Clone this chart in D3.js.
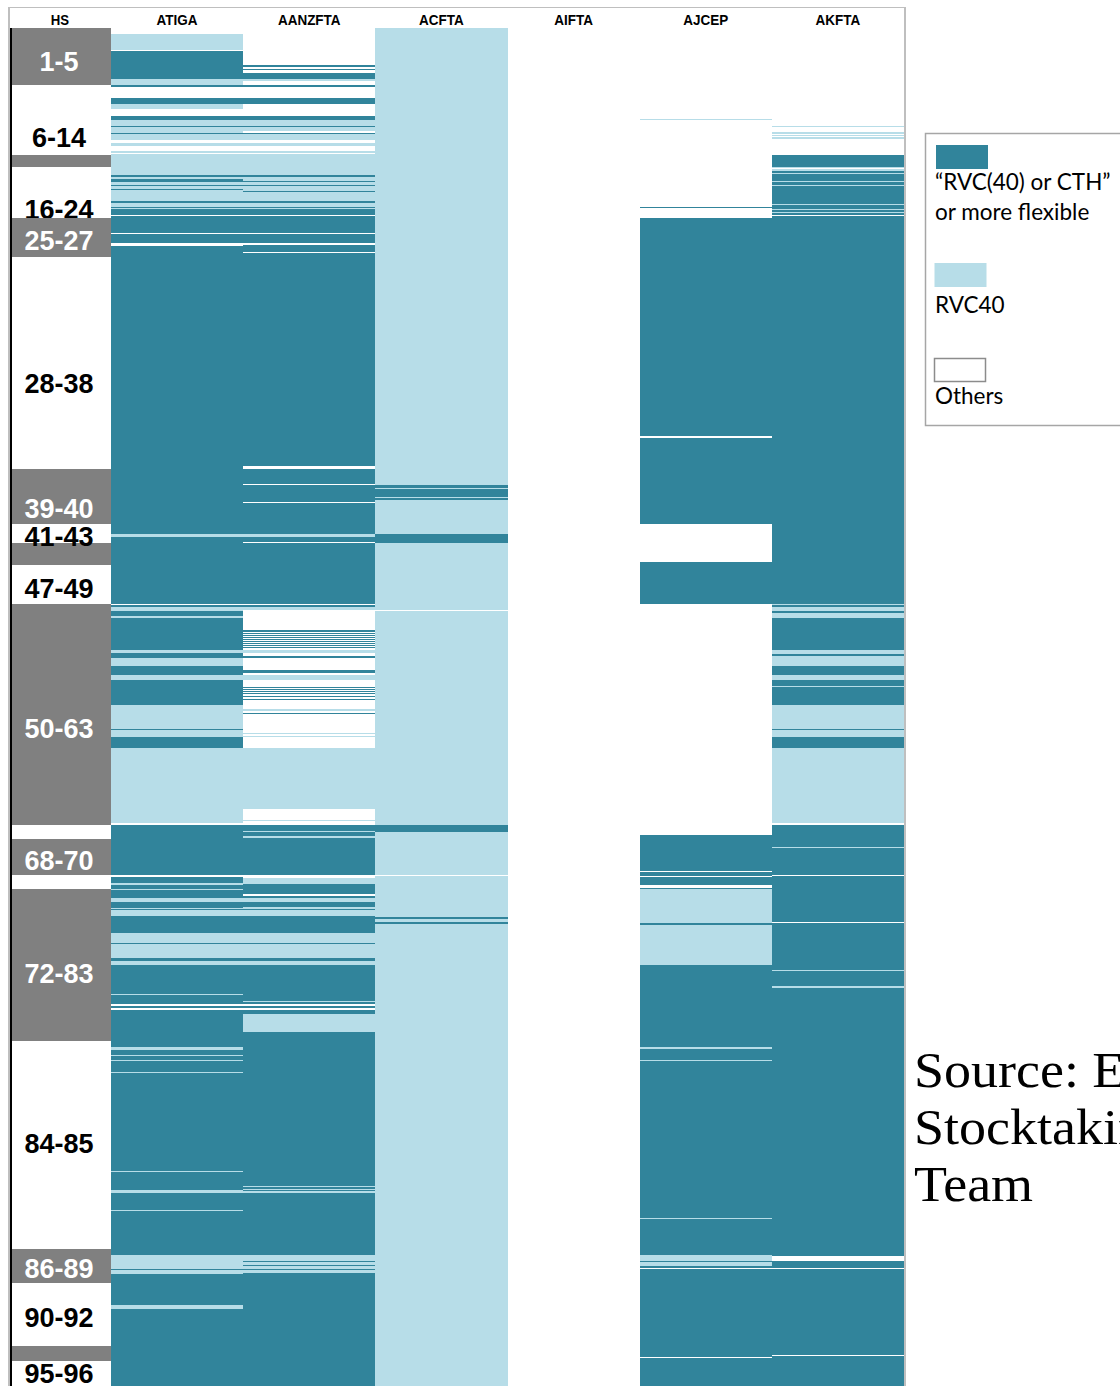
<!DOCTYPE html>
<html><head><meta charset="utf-8">
<script src="https://cdn.jsdelivr.net/npm/d3@7"></script>
<style>body{margin:0;background:#fff;overflow:hidden}svg{display:block}</style>
</head><body><svg id="c" width="1120" height="1386"></svg>
<script>
// ---------- DATA ----------
const agreements = ["ATIGA","AANZFTA","ACFTA","AIFTA","AJCEP","AKFTA"];
const categoryCodes = ["F","R","O"];
const legendLabels = [["“RVC(40) or CTH”","or more flexible"],["RVC40"],["Others"]];
const lineTotal = 1358; // tariff-line ordinal extent (HS 01 → HS 97)
// HS chapter groups: [start, end, label] in tariff-line ordinal units
const hsGroups = [
 [0,57,"1-5"],[57,127,"6-14"],[127,139,""],[139,190,"16-24"],[190,229,"25-27"],
 [229,441,"28-38"],[441,496,"39-40"],[496,515,"41-43"],[515,537,""],[537,576,"47-49"],
 [576,797,"50-63"],[797,811,""],[811,847,"68-70"],[847,861,""],[861,1013,"72-83"],
 [1013,1221,"84-85"],[1221,1255,"86-89"],[1255,1318,"90-92"],[1318,1333,""],[1333,1358,"95-96"]
];
// runs of tariff lines per agreement: [start, end, category]  (unlisted = Others)
const atiga = [
 [6,22,"R"],[23,51,"F"],[51,57,"R"],[57,59,"F"],[70,76,"F"],[76,81,"R"],[88,92,"F"],[92,98,"R"],[98,99,"F"],[99,105,"R"],
 [105,106,"F"],[106,112,"R"],[115,118,"R"],[123,125,"R"],[126,147,"R"],[147,149,"F"],[149,151,"R"],[151,154,"F"],[154,157,"R"],
 [157,158,"F"],[158,161,"R"],[161,162,"F"],[162,173,"R"],[173,175,"F"],[175,179,"R"],[179,180,"F"],[180,181,"R"],[181,187,"F"],
 [188,205,"F"],[206,215,"F"],[218,506,"F"],[506,509,"R"],[509,576,"F"],[577,579,"F"],[579,583,"R"],[583,588,"F"],[588,590,"R"],
 [590,622,"F"],[622,625,"R"],[625,630,"F"],[630,638,"R"],[638,647,"F"],[647,652,"R"],[652,677,"F"],[677,701,"R"],[701,702,"F"],
 [702,709,"R"],[709,720,"F"],[720,795,"R"],[797,847,"F"],[849,855,"F"],[855,857,"R"],[857,861,"F"],[861,862,"R"],[862,870,"F"],
 [870,874,"R"],[874,880,"F"],[880,881,"R"],[881,882,"F"],[882,888,"R"],[888,905,"F"],[905,915,"R"],[915,916,"F"],[916,930,"R"],
 [930,933,"F"],[933,937,"R"],[937,966,"F"],[966,967,"R"],[967,976,"F"],[978,980,"F"],[982,1019,"F"],[1019,1022,"R"],[1022,1027,"F"],
 [1027,1028,"R"],[1028,1032,"F"],[1032,1033,"R"],[1033,1044,"F"],[1044,1045,"R"],[1045,1143,"F"],[1143,1144,"R"],[1144,1162,"F"],
 [1162,1165,"R"],[1165,1182,"F"],[1182,1183,"R"],[1183,1227,"F"],[1227,1241,"R"],[1241,1242,"F"],[1242,1246,"R"],[1246,1277,"F"],
 [1277,1281,"R"],[1281,1358,"F"]
];
const aanzfta = [
 [37,39,"F"],[41,42,"F"],[45,51,"F"],[51,53,"R"],[57,59,"F"],[70,76,"F"],[88,92,"F"],[92,98,"R"],[98,99,"F"],[99,103,"R"],
 [105,106,"F"],[106,112,"R"],[115,118,"R"],[123,125,"R"],[126,147,"R"],[147,149,"F"],[149,153,"R"],[153,154,"F"],[154,157,"R"],
 [157,158,"F"],[158,163,"R"],[163,164,"F"],[164,173,"R"],[173,175,"F"],[175,179,"R"],[179,180,"F"],[180,181,"R"],[181,187,"F"],
 [188,205,"F"],[206,215,"F"],[217,224,"F"],[225,438,"F"],[441,456,"F"],[457,474,"F"],[475,506,"F"],[506,509,"R"],[509,514,"F"],
 [515,576,"F"],[577,579,"F"],[579,582,"R"],[602,604,"F"],[605,606,"F"],[607,608,"F"],[609,610,"F"],[611,612,"F"],[613,614,"F"],
 [615,616,"F"],[617,618,"F"],[619,620,"F"],[622,625,"R"],[628,630,"F"],[642,645,"F"],[647,652,"R"],[659,660,"F"],[661,662,"F"],
 [663,664,"F"],[665,666,"F"],[668,669,"F"],[671,672,"F"],[681,683,"R"],[685,686,"F"],[705,706,"R"],[708,709,"R"],[720,781,"R"],
 [792,793,"R"],[797,803,"F"],[803,804,"R"],[804,808,"F"],[808,810,"R"],[810,847,"F"],[850,856,"R"],[856,866,"F"],[868,870,"F"],
 [870,874,"R"],[874,879,"F"],[879,881,"R"],[881,882,"F"],[882,888,"R"],[888,905,"F"],[905,915,"R"],[915,916,"F"],[916,930,"R"],
 [930,933,"F"],[933,937,"R"],[937,973,"F"],[973,974,"R"],[974,976,"F"],[978,980,"F"],[982,986,"F"],[986,1004,"R"],[1004,1158,"F"],
 [1158,1159,"R"],[1159,1161,"F"],[1161,1162,"R"],[1162,1163,"F"],[1163,1165,"R"],[1165,1227,"F"],[1227,1233,"R"],[1233,1234,"F"],
 [1234,1237,"R"],[1237,1238,"F"],[1238,1241,"R"],[1241,1242,"F"],[1242,1245,"R"],[1245,1358,"F"]
];
const acfta = [
 [0,457,"R"],[457,460,"F"],[460,461,"R"],[461,469,"F"],[469,470,"R"],[470,472,"F"],[472,506,"R"],[506,515,"F"],[515,582,"R"],
 [583,797,"R"],[797,804,"F"],[804,847,"R"],[848,889,"R"],[889,891,"F"],[891,894,"R"],[894,896,"F"],[896,1358,"R"]
];
const aifta = [];
const ajcep = [
 [91,92,"R"],[179,180,"F"],[190,408,"F"],[410,496,"F"],[534,576,"F"],[807,843,"F"],[844,848,"F"],[849,857,"F"],[860,861,"F"],
 [861,895,"R"],[895,897,"F"],[897,937,"R"],[937,1019,"F"],[1019,1021,"R"],[1021,1032,"F"],[1032,1033,"R"],[1033,1190,"F"],
 [1190,1191,"R"],[1191,1227,"F"],[1227,1233,"R"],[1233,1234,"F"],[1234,1238,"R"],[1238,1240,"F"],[1241,1329,"F"],[1330,1358,"F"]
];
const akfta = [
 [98,99,"R"],[104,106,"R"],[107,108,"R"],[109,111,"R"],[127,139,"F"],[139,140,"R"],[141,143,"R"],[143,145,"F"],[145,146,"R"],
 [146,153,"F"],[153,154,"R"],[154,157,"F"],[157,158,"R"],[158,176,"F"],[176,177,"R"],[177,181,"F"],[181,182,"R"],[182,184,"F"],
 [184,185,"R"],[185,187,"F"],[188,576,"F"],[576,577,"R"],[577,579,"F"],[579,583,"R"],[583,585,"F"],[585,590,"R"],[590,622,"F"],
 [622,626,"R"],[626,628,"F"],[628,638,"R"],[638,647,"F"],[647,652,"R"],[652,658,"F"],[658,659,"R"],[659,677,"F"],[677,701,"R"],
 [701,702,"F"],[702,709,"R"],[709,720,"F"],[720,795,"R"],[797,819,"F"],[819,820,"R"],[820,847,"F"],[848,894,"F"],[895,942,"F"],
 [942,943,"R"],[943,958,"F"],[958,960,"R"],[960,1228,"F"],[1233,1240,"F"],[1241,1327,"F"],[1328,1358,"F"]
];
const sourceLines = ["Source: ERIA","Stocktaking","Team"];

// ---------- LAYOUT / STYLE ----------
const runsByAgreement = {ATIGA:atiga, AANZFTA:aanzfta, ACFTA:acfta, AIFTA:aifta, AJCEP:ajcep, AKFTA:akfta};
// label anchor positions (ordinal units) — layout only
const hsLabelAt = {"1-5":43,"6-14":119,"16-24":191,"25-27":222,"28-38":365,"39-40":490,"41-43":518,"47-49":570,
  "50-63":710,"68-70":842,"72-83":955,"84-85":1125,"86-89":1250,"90-92":1299,"95-96":1355};
const color = d3.scaleOrdinal().domain(categoryCodes).range(["#31849B","#B7DDE8","#FFFFFF"]);
const GRAY = "#808080";

const svg = d3.select("#c");
const y = d3.scaleLinear().domain([0, lineTotal]).range([28, 1386]);
const x = d3.scaleBand().domain(agreements).range([111, 904]).padding(0);
const hsX0 = 12, hsX1 = 111;

// header
const hdr = svg.append("g").attr("font-family","Liberation Sans, Arial, sans-serif")
  .attr("font-weight","bold").attr("font-size",15).attr("fill","#000");
hdr.append("text").attr("transform",`translate(60,25) scale(0.88,1)`).attr("text-anchor","middle").text("HS");
hdr.selectAll("text.h").data(agreements).join("text").attr("class","h")
  .attr("transform",d=>`translate(${x(d)+x.bandwidth()/2},25) scale(0.9,1)`)
  .attr("text-anchor","middle").text(d=>d);

// HS column: filler bands first, then labelled bands with their labels in order
const hsG = svg.append("g");
const bandFill = (d,i)=> i%2===0 ? GRAY : "#FFFFFF";
hsGroups.forEach((d,i)=>{ if(!d[2]) hsG.append("rect").attr("x",hsX0).attr("width",hsX1-hsX0)
  .attr("y",y(d[0])).attr("height",y(d[1])-y(d[0])).attr("fill",bandFill(d,i)).attr("shape-rendering","crispEdges"); });
hsGroups.forEach((d,i)=>{ if(!d[2]) return;
  hsG.append("rect").attr("x",hsX0).attr("width",hsX1-hsX0).attr("y",y(d[0])).attr("height",y(d[1])-y(d[0]))
    .attr("fill",bandFill(d,i)).attr("shape-rendering","crispEdges");
  hsG.append("text").attr("x",59).attr("y",y(hsLabelAt[d[2]])).attr("text-anchor","middle")
    .attr("font-family","Liberation Sans, Arial, sans-serif").attr("font-weight","bold").attr("font-size",27)
    .attr("fill", i%2===0 ? "#FFFFFF" : "#000000").text(d[2]);
});

// stripes
const cols = svg.append("g").attr("shape-rendering","crispEdges");
agreements.forEach(a=>{
  cols.append("g").selectAll("rect").data(runsByAgreement[a].filter(r=>r[2]!=="O")).join("rect")
    .attr("x",x(a)).attr("width",x.bandwidth())
    .attr("y",r=>y(r[0])).attr("height",r=>Math.max(1,y(r[1])-y(r[0])))
    .attr("fill",r=>color(r[2]));
});

// frame
const fr = svg.append("g").attr("shape-rendering","crispEdges");
fr.append("line").attr("x1",9).attr("x2",906).attr("y1",7.5).attr("y2",7.5).attr("stroke","#BFBFBF").attr("stroke-width",1.5);
fr.append("line").attr("x1",9).attr("x2",9).attr("y1",7).attr("y2",1386).attr("stroke","#BFBFBF").attr("stroke-width",1.5);
fr.append("line").attr("x1",905).attr("x2",905).attr("y1",7).attr("y2",1386).attr("stroke","#BFBFBF").attr("stroke-width",2);
fr.append("line").attr("x1",11).attr("x2",11).attr("y1",28).attr("y2",1386).attr("stroke","#000").attr("stroke-width",2);

// legend
const lg = svg.append("g");
lg.append("rect").attr("x",925.5).attr("y",133.5).attr("width",260).attr("height",292).attr("fill","#fff")
  .attr("stroke","#A6A6A6").attr("stroke-width",1.5);
const swY = [145,263,358], txtY = [[190,220],[313],[404]];
categoryCodes.forEach((c,i)=>{
  lg.append("rect").attr("x", i===0?936:934.5).attr("y",swY[i]+(i===2?0.5:0)).attr("width",i===2?51:52).attr("height",i===2?23:24)
    .attr("fill",color(c)).attr("stroke", i===2?"#8C8C8C":"none").attr("stroke-width",1.5);
  legendLabels[i].forEach((t,j)=> lg.append("text").attr("x",935).attr("y",txtY[i][j])
    .attr("font-family","Lato, sans-serif").attr("font-size",22.5).attr("fill","#000").text(t));
});

// source note
const src = svg.append("g").attr("font-family","Liberation Serif, serif").attr("font-size",50).attr("fill","#000");
sourceLines.forEach((t,i)=> src.append("text").attr("transform",`translate(914,${1087+i*57}) scale(1.08,1)`).text(t));
</script></body></html>
